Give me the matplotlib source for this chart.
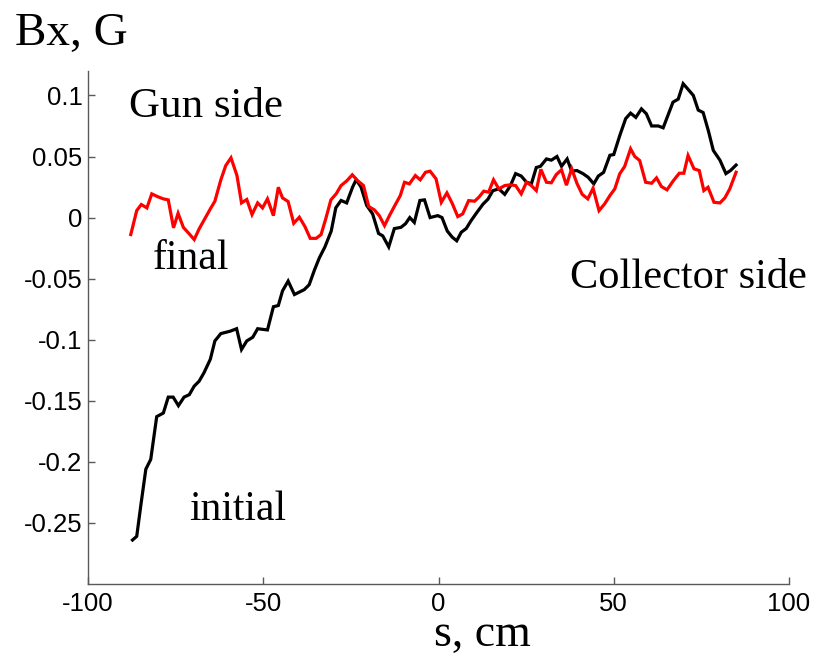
import matplotlib
matplotlib.use("Agg")
import matplotlib.pyplot as plt

# ---- data ----
s_initial = [-87.3, -86.1, -84.9, -83.5, -82.1, -80.4, -78.5, -77.1, -75.7, -74.2,
             -72.6, -71.1, -69.7, -68.3, -66.9, -65.1, -63.8, -62.1, -59.4, -57.6,
             -56.2, -54.7, -53.0, -51.6, -48.8, -47.1, -45.7, -44.5, -42.9, -41.1,
             -38.3, -36.9, -35.4, -34.0, -32.4, -30.6, -29.3, -27.8, -26.2, -24.5,
             -23.5, -22.1, -20.5, -18.8, -17.1, -15.9, -14.2, -12.6, -10.7, -9.4,
             -8.2, -6.9, -5.3, -4.0, -2.4, -0.2, 1.0, 2.5, 3.9, 5.2,
             6.5, 7.9, 9.3, 10.9, 12.7, 14.1, 15.5, 17.2, 18.9, 20.5,
             22.0, 23.6, 25.1, 26.5, 27.9, 29.1, 30.8, 32.2, 33.8, 35.1,
             36.7, 38.0, 39.5, 41.2, 42.7, 44.3, 45.6, 47.1, 48.9, 50.0,
             51.7, 53.4, 54.8, 56.3, 57.9, 59.3, 60.8, 62.7, 64.1, 65.5,
             66.9, 68.4, 69.8, 71.2, 72.7, 74.1, 75.5, 77.0, 78.4, 80.3,
             82.0, 83.3, 84.9]
bx_initial = [-0.264, -0.261, -0.235, -0.206, -0.198, -0.163, -0.160, -0.147, -0.147, -0.154,
              -0.147, -0.145, -0.138, -0.134, -0.127, -0.116, -0.101, -0.095, -0.093, -0.091,
              -0.108, -0.101, -0.098, -0.091, -0.092, -0.073, -0.072, -0.060, -0.052, -0.063,
              -0.059, -0.055, -0.043, -0.033, -0.024, -0.011, 0.008, 0.014, 0.012, 0.025,
              0.031, 0.025, 0.010, 0.003, -0.013, -0.015, -0.024, -0.009, -0.008, -0.005,
              0.000, -0.004, 0.014, 0.0145, 0.000, 0.0016, 0.000, -0.011, -0.016, -0.019,
              -0.012, -0.009, -0.0025, 0.004, 0.011, 0.015, 0.022, 0.0235, 0.019, 0.026,
              0.036, 0.034, 0.029, 0.0276, 0.041, 0.042, 0.048, 0.047, 0.050, 0.042,
              0.048, 0.038, 0.0385, 0.036, 0.033, 0.0276, 0.034, 0.037, 0.051, 0.0516,
              0.067, 0.081, 0.0855, 0.082, 0.089, 0.085, 0.075, 0.075, 0.0735, 0.084,
              0.0945, 0.097, 0.1096, 0.105, 0.100, 0.088, 0.086, 0.071, 0.055, 0.047,
              0.036, 0.0385, 0.043]

s_final = [-87.8, -86.1, -84.8, -83.2, -81.8, -80.2, -78.5, -77.1, -75.6, -74.3,
           -72.8, -71.1, -69.7, -68.3, -66.7, -65.1, -63.8, -62.1, -60.7, -59.2,
           -57.5, -56.2, -54.7, -53.2, -51.6, -50.2, -48.8, -47.1, -45.7, -44.5,
           -42.9, -41.3, -39.7, -38.1, -36.6, -34.9, -33.5, -32.1, -30.7, -29.2,
           -27.8, -26.2, -24.6, -23.1, -21.4, -19.9, -18.3, -16.9, -15.4, -14.0,
           -12.3, -10.9, -9.7, -8.3, -6.6, -5.2, -3.7, -2.4, -0.7, 0.8,
           2.4, 3.9, 5.5, 6.9, 8.6, 10.3, 11.5, 12.9, 14.3, 15.7,
           17.2, 18.9, 20.5, 22.0, 23.6, 25.1, 26.5, 27.9, 29.2, 30.8,
           32.2, 33.6, 35.1, 36.5, 38.0, 39.5, 41.0, 42.6, 44.1, 45.8,
           47.4, 48.9, 50.3, 51.7, 53.1, 54.8, 56.0, 57.4, 59.1, 60.8,
           62.2, 63.6, 65.2, 66.9, 68.7, 70.0, 71.2, 72.9, 74.4, 75.7,
           76.9, 78.6, 80.3, 81.7, 83.1, 84.9]
bx_final = [-0.0139, 0.0057, 0.0107, 0.0079, 0.0194, 0.0172, 0.0153, 0.0145, -0.0084, 0.0035,
            -0.008, -0.0134, -0.018, -0.0093, -0.0011, 0.0071, 0.0134, 0.0309, 0.0426, 0.0489,
            0.0344, 0.012, 0.0148, 0.0025, 0.012, 0.0079, 0.0153, 0.0016, 0.0248, 0.0161,
            0.0131, -0.0047, 0.0003, -0.0074, -0.017, -0.017, -0.0139, -0.0003, 0.0145, 0.0194,
            0.0262, 0.030, 0.035, 0.0303, 0.0262, 0.009, 0.0063, 0.0016, -0.0066, 0.0016,
            0.0107, 0.018, 0.0289, 0.0276, 0.0344, 0.0309, 0.0371, 0.038, 0.0317, 0.0125,
            0.0202, 0.0117, 0.0008, 0.003, 0.0139, 0.0134, 0.0166, 0.0216, 0.0208, 0.0309,
            0.0235, 0.0262, 0.0268, 0.0262, 0.0194, 0.0289, 0.0262, 0.0221, 0.0395, 0.0289,
            0.0285, 0.0352, 0.0391, 0.0265, 0.040, 0.028, 0.019, 0.0153, 0.024, 0.0057,
            0.0112, 0.018, 0.0235, 0.0358, 0.0418, 0.0563, 0.050, 0.0467, 0.0289, 0.0281,
            0.0325, 0.0254, 0.0227, 0.0298, 0.0363, 0.0363, 0.0508, 0.0399, 0.0385, 0.0221,
            0.0248, 0.0125, 0.012, 0.0161, 0.0235, 0.0371]

x_ticks = [-100, -50, 0, 50, 100]
y_ticks = [-0.25, -0.2, -0.15, -0.1, -0.05, 0, 0.05, 0.1]
y_tick_labels = ["-0.25", "-0.2", "-0.15", "-0.1", "-0.05", "0", "0.05", "0.1"]

W, H = 815, 656
fig = plt.figure(figsize=(W / 100, H / 100), dpi=100)
ax = fig.add_axes([88 / W, (H - 584) / H, (789 - 88) / W, (584 - 71) / H])

ax.plot(s_initial, bx_initial, color="black", lw=2.3, solid_joinstyle="miter")
ax.plot(s_final, bx_final, color="red", lw=2.3, solid_joinstyle="miter")

ax.set_xlim(-100, 100)
ax.set_ylim(-0.3, 0.12)
ax.set_xticks(x_ticks)
ax.set_xticklabels([str(v) for v in x_ticks])
ax.set_yticks(y_ticks)
ax.set_yticklabels(y_tick_labels)

for sp in ["top", "right"]:
    ax.spines[sp].set_visible(False)
for sp in ["left", "bottom"]:
    ax.spines[sp].set_color("0.35")
    ax.spines[sp].set_linewidth(1.0)

tick_family = ["Liberation Sans", "DejaVu Sans"]
ax.tick_params(direction="in", length=5, width=1, color="0.35", labelcolor="black")
ax.tick_params(axis="x", pad=6)
ax.tick_params(axis="y", pad=4)
for lab in ax.get_xticklabels() + ax.get_yticklabels():
    lab.set_fontfamily(tick_family)
    lab.set_fontsize(18.5)

serif = ["Liberation Serif", "DejaVu Serif"]
ax.text(-88.3, 0.082, "Gun side", family=serif, fontsize=31, ha="left", va="baseline")
ax.text(-81.4, -0.042, "final", family=serif, fontsize=30, ha="left", va="baseline")
ax.text(-71.1, -0.248, "initial", family=serif, fontsize=30, ha="left", va="baseline")
ax.text(37.4, -0.058, "Collector side", family=serif, fontsize=30.5, ha="left", va="baseline")

fig.text(15 / W, (H - 45) / H, "Bx, G", family=serif, fontsize=34, ha="left", va="baseline")
fig.text(482 / W, (H - 646) / H, "s, cm", family=serif, fontsize=33, ha="center", va="baseline")

fig.savefig("out.png", dpi=100)
